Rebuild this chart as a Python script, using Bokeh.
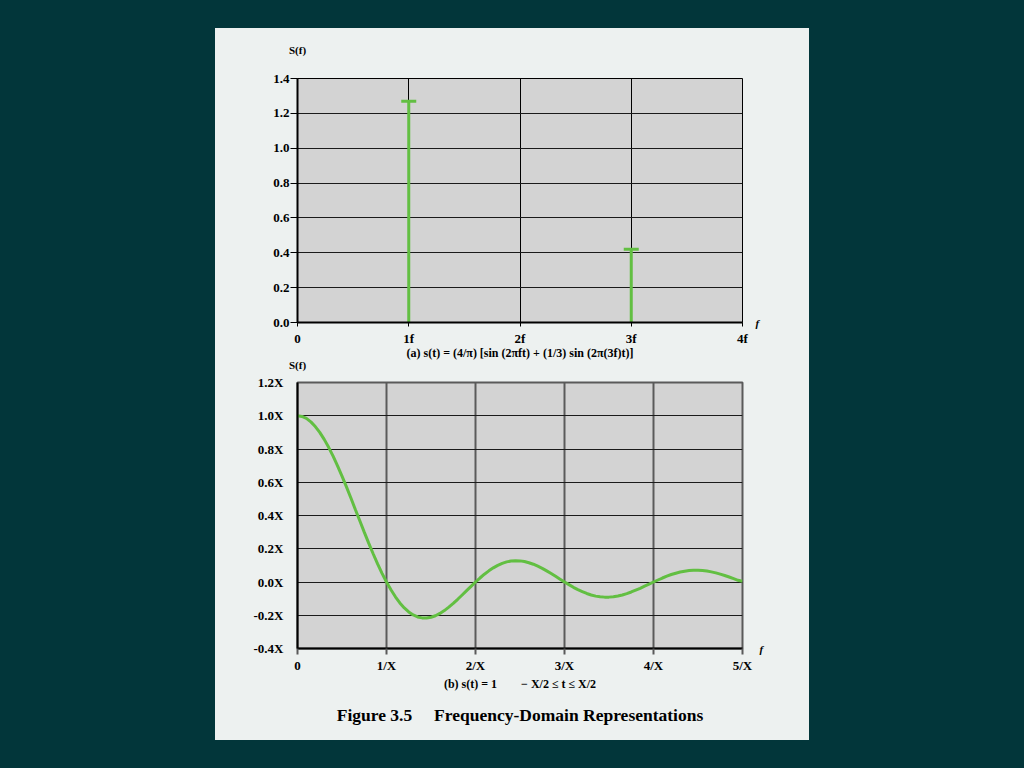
from bokeh.plotting import figure
from bokeh.models import Range1d, FixedTicker, Title, Spacer, LinearAxis
from bokeh.layouts import column, row
from bokeh.embed import file_html
from bokeh.resources import INLINE

# ---------------- data ----------------
# (a) line spectrum
freq_a = [1, 3]
amp_a = [1.27, 0.42]
xticks_a = [0, 1, 2, 3, 4]
xlabels_a = ["0", "1f", "2f", "3f", "4f"]
yticks_a = [0.0, 0.2, 0.4, 0.6, 0.8, 1.0, 1.2, 1.4]
ylabels_a = ["0.0", "0.2", "0.4", "0.6", "0.8", "1.0", "1.2", "1.4"]

# (b) continuous spectrum
freq_b = [0.00, 0.05, 0.10, 0.15, 0.20, 0.25, 0.30, 0.35, 0.40, 0.45,
          0.50, 0.55, 0.60, 0.65, 0.70, 0.75, 0.80, 0.85, 0.90, 0.95,
          1.00, 1.05, 1.10, 1.15, 1.20, 1.25, 1.30, 1.35, 1.40, 1.45,
          1.50, 1.55, 1.60, 1.65, 1.70, 1.75, 1.80, 1.85, 1.90, 1.95,
          2.00, 2.05, 2.10, 2.15, 2.20, 2.25, 2.30, 2.35, 2.40, 2.45,
          2.50, 2.55, 2.60, 2.65, 2.70, 2.75, 2.80, 2.85, 2.90, 2.95,
          3.00, 3.05, 3.10, 3.15, 3.20, 3.25, 3.30, 3.35, 3.40, 3.45,
          3.50, 3.55, 3.60, 3.65, 3.70, 3.75, 3.80, 3.85, 3.90, 3.95,
          4.00, 4.05, 4.10, 4.15, 4.20, 4.25, 4.30, 4.35, 4.40, 4.45,
          4.50, 4.55, 4.60, 4.65, 4.70, 4.75, 4.80, 4.85, 4.90, 4.95,
          5.00]
amp_b = [1.000, 0.996, 0.984, 0.963, 0.935, 0.900, 0.858, 0.810, 0.757, 0.699,
         0.637, 0.572, 0.505, 0.436, 0.368, 0.300, 0.234, 0.170, 0.109, 0.052,
         0.000, -0.047, -0.089, -0.126, -0.156, -0.180, -0.198, -0.210, -0.216, -0.217,
         -0.212, -0.203, -0.189, -0.172, -0.151, -0.129, -0.104, -0.078, -0.052, -0.026,
         0.000, 0.024, 0.047, 0.067, 0.085, 0.100, 0.112, 0.121, 0.126, 0.128,
         0.127, 0.123, 0.116, 0.107, 0.095, 0.082, 0.067, 0.051, 0.034, 0.017,
         0.000, -0.016, -0.032, -0.046, -0.058, -0.069, -0.078, -0.085, -0.089, -0.091,
         -0.091, -0.089, -0.084, -0.078, -0.070, -0.060, -0.049, -0.038, -0.025, -0.013,
         0.000, 0.012, 0.024, 0.035, 0.045, 0.053, 0.060, 0.065, 0.069, 0.071,
         0.071, 0.069, 0.066, 0.061, 0.055, 0.047, 0.039, 0.030, 0.020, 0.010,
         0.005]
xticks_b = [0, 1, 2, 3, 4, 5]
xlabels_b = ["0", "1/X", "2/X", "3/X", "4/X", "5/X"]
yticks_b = [-0.4, -0.2, 0.0, 0.2, 0.4, 0.6, 0.8, 1.0, 1.2]
ylabels_b = ["-0.4X", "-0.2X", "0.0X", "0.2X", "0.4X", "0.6X", "0.8X", "1.0X", "1.2X"]

# ---------------- style ----------------
DARK = "#02363a"
PANEL = "#edf1f0"
PLOT_BG = "#d3d3d3"
GREEN = "#62bf42"
FONT = "Liberation Serif"


def style_axis(ax, size="13px"):
    ax.major_label_text_font = FONT
    ax.major_label_text_font_style = "bold"
    ax.major_label_text_font_size = size
    ax.major_label_text_color = "black"
    ax.axis_line_color = "black"
    ax.axis_line_width = 2
    ax.minor_tick_line_color = None
    ax.major_tick_in = 0
    ax.axis_label_text_font = FONT
    ax.axis_label_text_font_style = "bold"
    ax.axis_label_text_font_size = "12px"
    ax.axis_label_text_color = "black"


def label_axis(p, side, tick, text, standoff, style="bold"):
    """An axis with no line/ticks used only to place a single text label."""
    ax = LinearAxis(ticker=FixedTicker(ticks=[tick]),
                    major_label_overrides={tick: text})
    ax.axis_line_color = None
    ax.major_tick_line_color = None
    ax.minor_tick_line_color = None
    ax.major_tick_out = 0
    ax.major_tick_in = 0
    ax.major_label_standoff = standoff
    ax.major_label_text_font = FONT
    ax.major_label_text_font_style = style
    ax.major_label_text_font_size = "11px"
    ax.major_label_text_color = "black"
    ax.major_label_orientation = "horizontal"
    p.add_layout(ax, side)


# ---------------- figure (a) ----------------
p1 = figure(width=594, height=346, output_backend="svg", toolbar_location=None,
            x_range=Range1d(0, 4), y_range=Range1d(0, 1.4),
            min_border_left=82, min_border_right=65, min_border_top=50, min_border_bottom=52,
            background_fill_color=PLOT_BG, border_fill_color=PANEL,
            outline_line_color="black", outline_line_width=1)
p1.segment(x0=freq_a, y0=[0] * len(freq_a), x1=freq_a, y1=amp_a, line_color=GREEN, line_width=3)
p1.scatter(x=freq_a, y=amp_a, marker="dash", size=15, line_color=GREEN, line_width=3)

p1.xaxis.ticker = FixedTicker(ticks=xticks_a)
p1.xaxis.major_label_overrides = {t: l for t, l in zip(xticks_a, xlabels_a)}
p1.yaxis.ticker = FixedTicker(ticks=yticks_a)
p1.yaxis.major_label_overrides = {t: l for t, l in zip(yticks_a, ylabels_a)}
style_axis(p1.xaxis[0])
style_axis(p1.yaxis[0])
p1.xaxis.major_tick_out = 4
p1.xaxis.major_tick_line_color = "black"
p1.xaxis.major_label_standoff = 4
p1.xaxis.axis_label = "(a) s(t) = (4/π) [sin (2πft) + (1/3) sin (2π(3f)t)]"
p1.xaxis.axis_label_standoff = -3
p1.yaxis.major_tick_out = 7
p1.yaxis.major_tick_line_color = "black"
p1.yaxis.major_label_standoff = 1
p1.xgrid.grid_line_color = "black"
p1.xgrid.grid_line_width = 1
p1.ygrid.grid_line_color = "#1a1a1a"
p1.ygrid.grid_line_width = 1.2
label_axis(p1, "above", 0, "S(f)", 23)
label_axis(p1, "right", 0, "f", 13, "bold italic")
# "S(f)" heading of the lower chart, sits just under the caption of (a)
label_axis(p1, "below", 0, "S(f)", -4)

# ---------------- figure (b) ----------------
p2 = figure(width=594, height=366, output_backend="svg", toolbar_location=None,
            x_range=Range1d(0, 5), y_range=Range1d(-0.4, 1.2),
            min_border_left=82, min_border_right=67, min_border_top=8, min_border_bottom=92,
            background_fill_color=PLOT_BG, border_fill_color=PANEL,
            outline_line_color="#5a5a5a", outline_line_width=2)
p2.line(x=freq_b, y=amp_b, line_color=GREEN, line_width=3)

p2.xaxis.ticker = FixedTicker(ticks=xticks_b)
p2.xaxis.major_label_overrides = {t: l for t, l in zip(xticks_b, xlabels_b)}
p2.yaxis.ticker = FixedTicker(ticks=yticks_b)
p2.yaxis.major_label_overrides = {t: l for t, l in zip(yticks_b, ylabels_b)}
style_axis(p2.xaxis[0])
style_axis(p2.yaxis[0])
p2.xaxis.major_tick_out = 6
p2.xaxis.major_tick_line_color = "#5a5a5a"
p2.xaxis.major_tick_line_width = 2
p2.xaxis.major_label_standoff = 3
p2.xaxis.axis_label = "(b) s(t) = 1\u00a0\u00a0\u00a0\u00a0\u00a0\u00a0\u00a0\u00a0− X/2 ≤ t ≤ X/2"
p2.xaxis.axis_label_standoff = 1
p2.yaxis.major_tick_out = 0
p2.yaxis.major_tick_line_color = None
p2.yaxis.major_label_standoff = 14
p2.xgrid.grid_line_color = "#5a5a5a"
p2.xgrid.grid_line_width = 2
p2.ygrid.grid_line_color = "#1a1a1a"
p2.ygrid.grid_line_width = 1.2
label_axis(p2, "right", -0.4, "f", 17, "bold italic")
p2.add_layout(Title(text="Figure 3.5\u00a0\u00a0\u00a0\u00a0\u00a0Frequency-Domain Representations",
                    align="center", standoff=19, text_font=FONT, text_font_style="bold",
                    text_font_size="17.5px", text_color="black"), "below")

panel = column(p1, p2, styles={"background-color": PANEL})
layout = column(Spacer(height=28),
                row(Spacer(width=215), panel),
                width=1024, height=768, styles={"background-color": DARK})

open("out.html", "w").write(file_html(layout, INLINE))
